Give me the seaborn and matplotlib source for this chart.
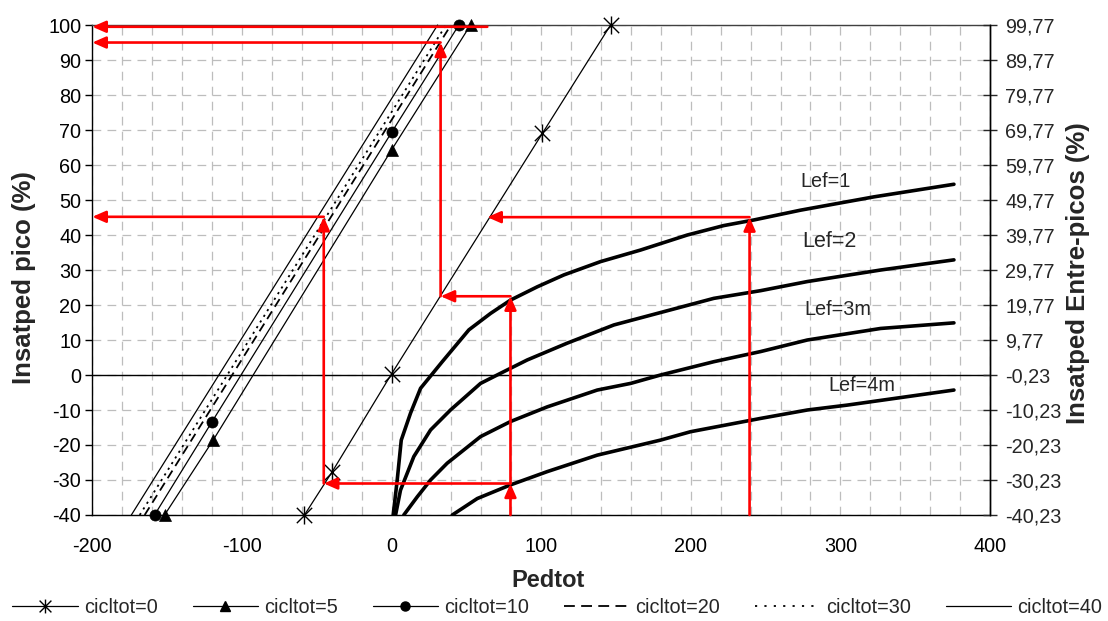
import numpy as np
import matplotlib
matplotlib.use("Agg")
import matplotlib.pyplot as plt
from matplotlib.path import Path
from matplotlib.lines import Line2D
from matplotlib.ticker import MultipleLocator, FixedLocator
import seaborn as sns

# ---- cicltot lines: Pedtot (x) vs Insatped pico (y) ----
cicl_labels = ["cicltot=0", "cicltot=5", "cicltot=10", "cicltot=20", "cicltot=30", "cicltot=40"]
c0_x = [-58.2, -39.6, 0.0, 100.9, 146.4]
c0_y = [-40.0, -27.6, 0.3, 69.1, 100.0]
c5_x = [-151.7, -119.2, 0.0, 52.8]
c5_y = [-40.0, -18.6, 64.3, 100.0]
c10_x = [-158.4, -119.9, 0.0, 45.0]
c10_y = [-40.0, -13.3, 69.3, 100.0]
c20_x = [-165.0, 39.7]
c20_y = [-40.0, 100.0]
c30_x = [-168.3, 36.4]
c30_y = [-40.0, 100.0]
c40_x = [-173.9, 30.8]
c40_y = [-40.0, 100.0]

# ---- Lef curves ----
lef_labels = ["Lef=1", "Lef=2", "Lef=3m", "Lef=4m"]
lef1_x = [1.1, 3.8, 6.5, 12.7, 19.4, 33.9, 51.7, 66.2, 79.5, 97.4, 115.2, 139.7,
          166.4, 197.7, 222.1, 242.2, 273.4, 322.4, 375.9]
lef1_y = [-40.0, -30.0, -18.6, -10.9, -3.8, 3.8, 12.9, 17.6, 21.4, 25.2, 28.6, 32.4,
          35.7, 40.0, 42.7, 44.3, 47.1, 50.9, 54.5]
lef2_x = [2.7, 6.0, 14.9, 26.1, 39.4, 59.5, 72.9, 90.7, 117.4, 148.6, 182.0, 215.4,
          246.7, 277.9, 326.9, 375.9]
lef2_y = [-40.0, -32.9, -23.3, -15.7, -10.0, -2.4, 0.5, 4.3, 9.1, 14.3, 18.1, 21.9,
          24.1, 26.7, 30.0, 32.9]
lef3_x = [8.2, 17.2, 26.1, 37.2, 59.5, 79.5, 104.1, 137.5, 159.8, 179.8, 215.4,
          246.7, 277.9, 326.9, 375.9]
lef3_y = [-40.0, -34.8, -30.0, -25.2, -17.6, -13.3, -9.1, -4.3, -2.4, 0.0, 3.8,
          6.7, 10.0, 13.3, 14.9]
lef4_x = [40.6, 57.3, 79.5, 104.1, 137.5, 179.8, 199.9, 246.7, 277.9, 304.6, 375.9]
lef4_y = [-40.0, -35.3, -31.4, -27.6, -22.9, -18.6, -16.2, -12.4, -10.0, -8.6, -4.3]
lef_label_x = [290.0, 293.0, 298.3, 314.6]
lef_label_y = [55.2, 38.1, 18.6, -3.1]

# ---- red reading paths (segment start -> end, arrow at the end) ----
arrow_x0 = [239.3, 239.3, 64.0, 64.0, 79.5, 79.5, 79.5, 32.8, 32.8, 79.5, -45.3, -45.3]
arrow_y0 = [-40.0, 45.1, 45.1, 99.5, -40.0, -31.0, 22.5, 22.5, 95.0, -31.0, -31.0, 45.2]
arrow_x1 = [239.3, 64.0, 64.0, -200.0, 79.5, 79.5, 32.8, 32.8, -200.0, -45.3, -45.3, -200.0]
arrow_y1 = [45.1, 45.1, 101.5, 99.5, -31.0, 22.5, 22.5, 95.0, 95.0, -31.0, 45.2, 45.2]

# ---- axis ticks ----
x_ticks = [-200, -100, 0, 100, 200, 300, 400]
y_ticks = [-40, -30, -20, -10, 0, 10, 20, 30, 40, 50, 60, 70, 80, 90, 100]
right_offset = -0.23

sns.set_style("white")
plt.rcParams["font.family"] = ["Liberation Sans", "DejaVu Sans"]

fig = plt.figure(figsize=(11.08, 6.21), dpi=100)
ax = fig.add_axes([0.0833, 0.1707, 0.8102, 0.7890])

# Excel-like asterisk marker: an X crossed by a vertical bar
star = Path([(0, -1), (0, 1), (-0.85, -0.85), (0.85, 0.85), (-0.85, 0.85), (0.85, -0.85)],
            [Path.MOVETO, Path.LINETO, Path.MOVETO, Path.LINETO, Path.MOVETO, Path.LINETO])

grid_kw = dict(color="#bdbdbd", linestyle=(0, (7, 5)), linewidth=0.9)
ax.set_xlim(-200, 400)
ax.set_ylim(-40, 100)
ax.xaxis.set_major_locator(FixedLocator(x_ticks))
ax.xaxis.set_minor_locator(MultipleLocator(20))
ax.yaxis.set_major_locator(FixedLocator(y_ticks))
ax.grid(True, which="both", axis="x", **grid_kw)
ax.grid(True, which="major", axis="y", **grid_kw)
ax.set_axisbelow(True)
ax.axhline(0, color="black", lw=1.0, zorder=2)

dash_plot = (0, (5, 3))
dot_plot = (0, (1.2, 2.5))
series = [
    (c0_x, c0_y, dict(marker=star, ms=13, mfc="none", mew=1.0, linestyle="-", lw=0.9)),
    (c5_x, c5_y, dict(marker="^", ms=9, mfc="black", mew=0.5, linestyle="-", lw=0.9)),
    (c10_x, c10_y, dict(marker="o", ms=8, mfc="black", mew=0.5, linestyle="-", lw=0.9)),
    (c20_x, c20_y, dict(marker="None", linestyle=dash_plot, lw=1.3)),
    (c30_x, c30_y, dict(marker="None", linestyle=dot_plot, lw=1.3)),
    (c40_x, c40_y, dict(marker="None", linestyle="-", lw=0.9)),
]
for (sx, sy, style), lab in zip(series, cicl_labels):
    sns.lineplot(x=sx, y=sy, ax=ax, sort=False, estimator=None, color="black",
                 mec="black", legend=False, clip_on=False, zorder=3, **style)

for lx, ly in [(lef1_x, lef1_y), (lef2_x, lef2_y), (lef3_x, lef3_y), (lef4_x, lef4_y)]:
    sns.lineplot(x=lx, y=ly, ax=ax, sort=False, estimator=None, color="black",
                 lw=2.6, legend=False, zorder=3, solid_joinstyle="round")

lef_sizes = [14.3, 15.5, 14.3, 14.3]
for tx, ty, t, fs in zip(lef_label_x, lef_label_y, lef_labels, lef_sizes):
    ax.text(tx, ty, t, ha="center", va="center", fontsize=fs, zorder=4)

for x0, y0, x1, y1 in zip(arrow_x0, arrow_y0, arrow_x1, arrow_y1):
    ax.annotate("", xy=(x1, y1), xytext=(x0, y0), zorder=5,
                arrowprops=dict(arrowstyle="-|>,head_length=0.8,head_width=0.35",
                                color="#ff0000", lw=1.9, shrinkA=0, shrinkB=0,
                                mutation_scale=10))

# left / bottom axes
ax.tick_params(axis="y", which="major", direction="out", length=5, width=1,
               labelsize=14.3, pad=3, colors="black")
ax.tick_params(axis="x", which="major", direction="inout", length=8, width=1,
               labelsize=14.3, pad=12, colors="black")
ax.tick_params(axis="x", which="minor", length=0)
ax.set_yticklabels([str(v) for v in y_ticks])
ax.set_xticklabels([str(v) for v in x_ticks])
for name, sp in ax.spines.items():
    sp.set_visible(True)
    sp.set_color("black")
    sp.set_linewidth(1.0)
ax.spines["top"].set_color("#404040")

ax.set_xlabel("Pedtot", fontsize=17, fontweight="bold")
ax.xaxis.label.set_va("center")
ax.xaxis.set_label_coords(0.5076, -0.134)
ax.set_ylabel("Insatped pico (%)", fontsize=18.5, fontweight="bold")
ax.yaxis.label.set_va("center")
ax.yaxis.set_label_coords(-0.076, 0.484)

# right axis: the same scale shifted by the offset
ax2 = ax.twinx()
ax2.set_ylim(-40 + right_offset, 100 + right_offset)
right_ticks = [v + right_offset for v in y_ticks]
ax2.yaxis.set_major_locator(FixedLocator(right_ticks))
ax2.set_yticklabels([f"{v:.2f}".replace(".", ",") for v in right_ticks])
ax2.tick_params(axis="y", direction="inout", length=10, width=1, labelsize=14.3, pad=6)
for sp in ax2.spines.values():
    sp.set_visible(False)
ax2.spines["right"].set_visible(True)
ax2.spines["right"].set_color("black")
ax2.spines["right"].set_linewidth(1.0)
ax2.set_ylabel("Insatped Entre-picos (%)", fontsize=18.5, fontweight="bold")
ax2.yaxis.label.set_va("center")
ax2.yaxis.set_label_coords(1.098, 0.493)

# legend below the plot
handles = [
    Line2D([], [], color="black", lw=0.9, marker=star, ms=10, mfc="none", mec="black", mew=1.0),
    Line2D([], [], color="black", lw=0.9, marker="^", ms=7, mfc="black", mec="black"),
    Line2D([], [], color="black", lw=0.9, marker="o", ms=6.5, mfc="black", mec="black"),
    Line2D([], [], color="black", lw=1.3, linestyle=(0, (6, 3.5))),
    Line2D([], [], color="black", lw=1.3, linestyle=(0, (1.2, 4))),
    Line2D([], [], color="black", lw=0.9),
]
fig.legend(handles, cicl_labels, loc="center", bbox_to_anchor=(0.503, 0.0225), ncol=6,
           frameon=False, handlelength=3.3, handletextpad=0.3, columnspacing=1.75,
           fontsize=14.3, numpoints=1)

fig.savefig("out.png", dpi=100)
